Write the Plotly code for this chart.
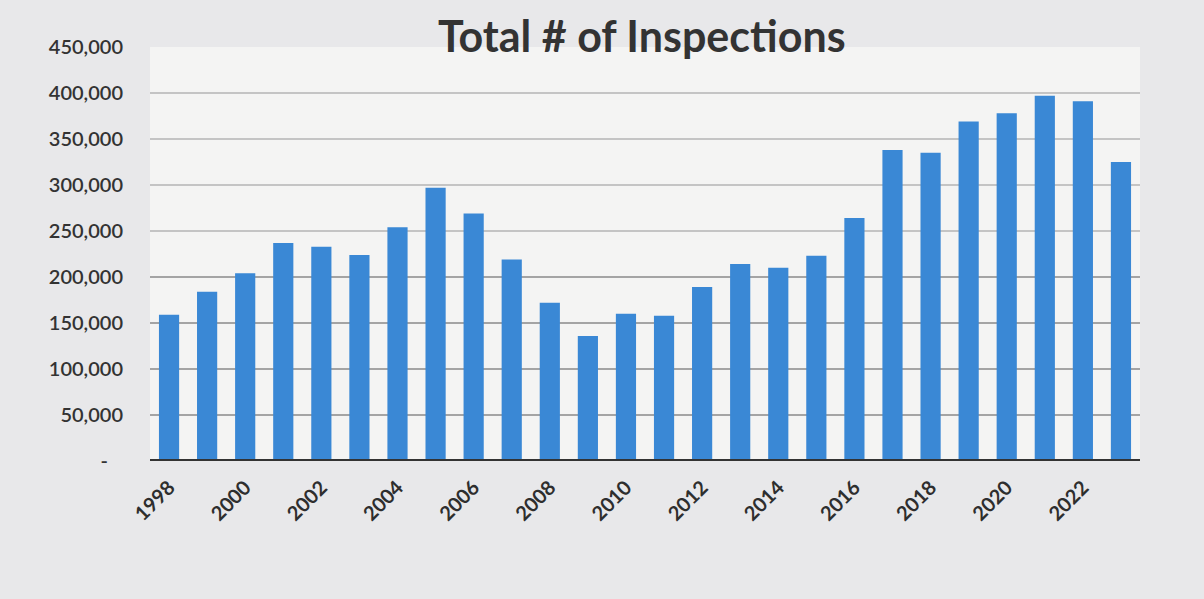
import plotly.graph_objects as go

# data
years = list(range(1998, 2024))
inspections = [
    159000, 184000, 204000, 237000, 233000, 224000, 254000, 297000,
    269000, 219000, 172000, 136000, 160000, 158000, 189000, 214000,
    210000, 223000, 264000, 338000, 335000, 369000, 378000, 397000,
    391000, 325000,
]
y_ticks = [0, 50000, 100000, 150000, 200000, 250000, 300000, 350000, 400000, 450000]
y_labels = ["-\u00a0\u00a0\u00a0"] + [f"{v:,}" for v in y_ticks[1:]]
x_ticks = list(range(1998, 2023, 2))
grid_values = y_ticks[1:-1]

fig = go.Figure(
    go.Bar(
        x=years,
        y=inspections,
        marker=dict(color="#3a88d5", line=dict(width=0)),
        width=0.53,
    )
)

# horizontal gridlines (no line at the top of the range, as in the source)
for g in grid_values:
    fig.add_shape(
        type="line", xref="paper", x0=0, x1=1, yref="y", y0=g, y1=g,
        line=dict(color="#a4a4a4" if g < 250000 else "#c4c4c4", width=2),
        layer="below",
    )

fig.update_layout(
    width=1204,
    height=599,
    margin=dict(l=150, r=64, t=47, b=138),
    paper_bgcolor="#e8e8ea",
    plot_bgcolor="#f4f4f3",
    font=dict(family="Lato, 'Open Sans', sans-serif", color="#333333"),
    title=dict(
        text="<b>Total # of Inspections</b>",
        x=0.533, xanchor="center", y=0.938, yanchor="middle",
        font=dict(size=43, color="#333333"),
    ),
    showlegend=False,
    xaxis=dict(
        range=[1997.5, 2023.5],
        tickmode="array",
        tickvals=x_ticks,
        ticktext=[str(v) for v in x_ticks],
        tickangle=-45,
        tickfont=dict(size=20, color="#2e2e2e", family="Lato", weight=700),
        showgrid=False,
        showline=False,
        zeroline=False,
        ticks="",
        ticklabelstandoff=10,
    ),
    yaxis=dict(
        range=[0, 450000],
        tickmode="array",
        tickvals=y_ticks,
        ticktext=y_labels,
        tickfont=dict(size=20, color="#333333", family="Lato", weight=600),
        showgrid=False,
        zeroline=False,
        showline=False,
        ticks="",
        ticklabelstandoff=26,
    ),
)

# thick baseline at zero
fig.add_shape(
    type="line", xref="paper", x0=0, x1=1, yref="y", y0=0, y1=0,
    line=dict(color="#333333", width=4), layer="above",
)

fig.write_html(
    "out.html",
    config={"displayModeBar": False},
    post_script="document.body.style.margin='0';document.body.style.background='#e8e8ea';",
)
